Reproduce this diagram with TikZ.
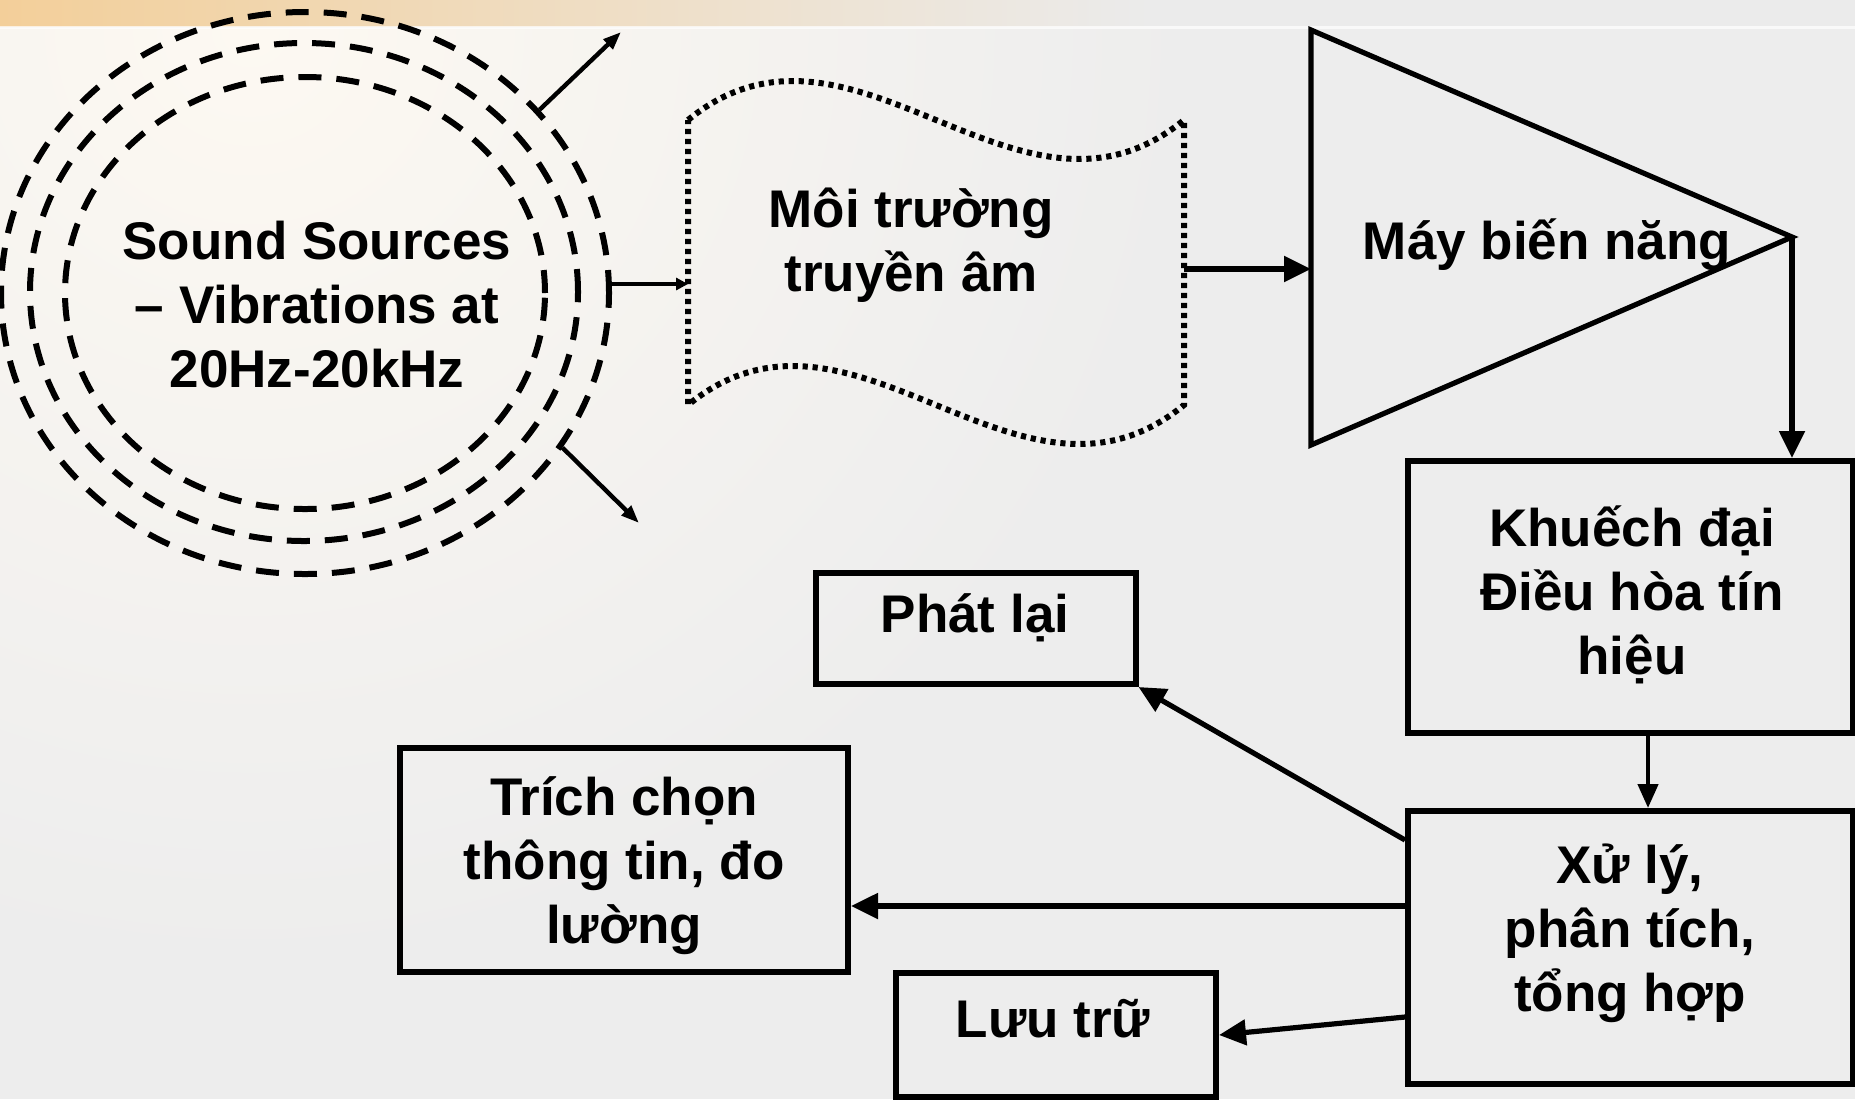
\documentclass[tikz,border=0pt]{standalone}
\usepackage{fontspec}
\setmainfont{Liberation Sans}
\usetikzlibrary{arrows.meta,shapes.geometric,calc}

\definecolor{pagebg}{HTML}{EDEDED}
\definecolor{glow}{HTML}{FDF9F2}
\definecolor{bandL}{HTML}{F3CF9A}
\definecolor{bandR}{HTML}{EBEBEB}

\begin{document}
\begin{tikzpicture}[x=0.5pt,y=-0.5pt,
  lbl/.style={font=\fontsize{26.5}{32}\selectfont\bfseries, align=center, inner sep=0pt},
  box/.style={draw, rectangle, line width=3pt, inner sep=0pt},
  conn/.style={line width=2.6pt, -{Triangle[length=13.5pt,width=12.5pt]}},
  thinconn/.style={line width=2.2pt, -{Triangle[length=12pt,width=10pt]}},
  ray/.style={line width=2.2pt, -{Triangle[length=9pt,width=6.5pt]}},
  ring/.style={line width=3pt, dash pattern=on 11.5pt off 7.5pt},
  wavy/.style={line width=3pt, dash pattern=on 2.6pt off 2.4pt}]

% page background with a warm glow at the upper left
\useasboundingbox (0,0) rectangle (1855,1099);
\fill[pagebg] (0,0) rectangle (1855,1099);
\begin{scope}
  \clip (0,28) rectangle (1855,1099);
  \shade[inner color=glow, outer color=pagebg] (250,28) circle (470pt);
\end{scope}
% title band
\fill[bandR] (0,0) rectangle (1855,26);
\shade[left color=bandL, right color=bandR] (0,0) rectangle (1150,26);
\fill[white, opacity=0.7] (0,26) rectangle (1855,29);

% sound source: three dashed rings
\node[ellipse, draw, ring, minimum width=304pt, minimum height=281pt, inner sep=0pt] (src) at (305,293) {};
\draw[ring] (304,292) ellipse [x radius=137pt, y radius=124.5pt];
\draw[ring] (305,293) ellipse [x radius=120pt, y radius=108pt];
\node[lbl] (srctxt) at (317,305) {Sound Sources\\– Vibrations at\\20Hz-20kHz};

\coordinate (rayNE) at (621,32);
\coordinate (raySE) at (639,523);
\draw[ray] (src.38) -- (rayNE);
\draw[ray] (src.-31) -- (raySE);

% propagation medium (wavy dotted outline)
\draw[wavy] (688,120) .. controls (853,-15) and (1019,255) .. (1184,120)
  -- (1184,405) .. controls (1019,540) and (853,270) .. (688,405) -- cycle;
\node[lbl] (medium) at (911,245) {Môi trường\\truyền âm};
\coordinate (mediumW) at (688,284);
\coordinate (mediumE) at (1184,269);
\draw[line width=2.2pt, -{Triangle[length=6pt,width=6pt]}] (src.east |- mediumW) -- (mediumW);

% transducer
\coordinate (tTop) at (1311,30);
\coordinate (tBot) at (1311,445);
\coordinate (tTip) at (1792,237);
\draw[line width=2.6pt] (tTop) -- (tTip) -- (tBot) -- cycle;
\node[lbl] (conv) at (1547,245) {Máy biến năng};
\draw[conn] (mediumE) -- (tTop |- mediumE);

% amplifier / conditioning
\node[box, minimum width=222.5pt, minimum height=136pt] (amp) at (1630.5,597) {};
\node[lbl] (ampT) at (1632,595) {Khuếch đại\\Điều hòa tín\\hiệu};
\draw[conn] (tTip) -- (tTip |- amp.north);

% processing
\node[box, minimum width=222.5pt, minimum height=136.5pt] (proc) at (1630.5,947.5) {};
\node[lbl] (procT) at (1630,933) {Xử lý,\\phân tích,\\tổng hợp};
\coordinate (split) at (1648,0);
\draw[thinconn] (amp.south -| split) -- (proc.north -| split);

% outputs
\node[box, minimum width=160pt, minimum height=55.5pt] (play) at (975.5,628.5) {};
\node[lbl] (playT) at (975,618) {Phát lại};

\node[box, minimum width=224pt, minimum height=112pt] (extract) at (624,860) {};
\node[lbl] (extractT) at (624,866) {Trích chọn\\thông tin, đo\\lường};

\node[box, minimum width=160pt, minimum height=62pt] (store) at (1056,1035) {};
\node[lbl] (storeT) at (1053,1019) {Lưu trữ};

\draw[conn] ($(proc.north west)+(0,32)$) -- (play.south east);
\coordinate (pe) at ($(proc.north west)+(0,98)$);
\draw[conn] (pe) -- (pe -| extract.east);
\draw[conn] ($(proc.north west)+(0,209)$) -- (store.east);
\end{tikzpicture}
\end{document}
